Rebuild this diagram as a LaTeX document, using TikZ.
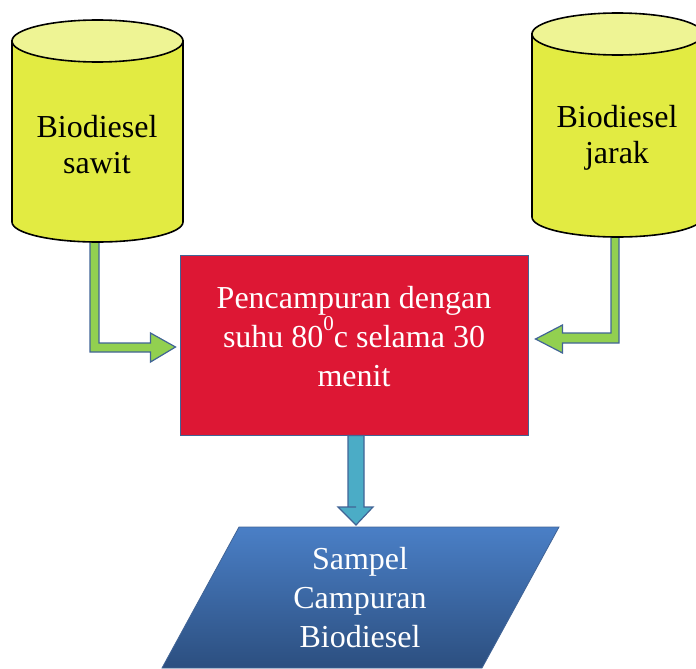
\documentclass[tikz,border=0pt]{standalone}
\usepackage{fontspec}
\setmainfont{Liberation Serif}
\usetikzlibrary{calc}
\definecolor{tankbody}{RGB}{226,235,66}
\definecolor{tanktop}{RGB}{238,244,148}
\definecolor{mixred}{RGB}{221,23,52}
\definecolor{edgeblue}{RGB}{65,100,150}
\definecolor{pipegreen}{RGB}{146,208,80}
\definecolor{pipeteal}{RGB}{75,172,198}
\definecolor{outtop}{RGB}{74,127,198}
\definecolor{outbot}{RGB}{44,79,128}
\tikzset{
  tanklabel/.style={align=center, font=\fontsize{32}{36}\selectfont, text=black, inner sep=0pt},
  whitelabel/.style={align=center, font=\fontsize{32}{39}\selectfont, text=white, inner sep=0pt},
  tankline/.style={draw=black, line width=1.6pt},
  procbox/.style={draw=edgeblue, line width=1pt, fill=mixred, minimum width=348pt, minimum height=180pt, inner sep=0pt},
  greenpipe/.style={draw=edgeblue, line width=1.2pt, fill=pipegreen, line join=miter},
  tealpipe/.style={draw=edgeblue, line width=1.2pt, fill=pipeteal, line join=miter},
}
\newcommand{\degsup}[1]{\raisebox{0.55em}{\fontsize{21}{21}\selectfont #1}}
\begin{document}
\begin{tikzpicture}[x=1pt,y=-1pt]
\useasboundingbox (0,0) rectangle (696,669);
\clip (0,0) rectangle (696,669);

% mixing step
\node[procbox] (mix) at (354,345) {};
\node[whitelabel] (mixtext) at ($(mix.center)+(0,-8)$)
  {Pencampuran dengan\\suhu 80\degsup{0}c selama 30\\menit};

% output product (parallelogram, runs past the lower edge)
\coordinate (outtl) at (239,527);
\shade[top color=outtop, bottom color=outbot, draw=edgeblue, line width=0.8pt]
  (outtl) -- (559,527) -- (482,668) -- (162,668) -- cycle;
\node[whitelabel] (out) at (360,598) {Sampel\\Campuran\\Biodiesel};

% pipe from the left tank into the mixer
\coordinate (tipL) at ($(mix.west)+(-4,2)$);
\draw[greenpipe] (90,238) |- ($(tipL)+(-25,5)$) -- ++(0,10) -- (tipL)
  -- ($(tipL)+(-25,-14)$) -- ++(0,10) -| (99,238) -- cycle;

% pipe from the right tank into the mixer
\coordinate (tipR) at ($(mix.east)+(7,-6)$);
\draw[greenpipe] (619,232) |- ($(tipR)+(27,4)$) -- ++(0,10) -- (tipR)
  -- ($(tipR)+(27,-14)$) -- ++(0,8) -| (611,232) -- cycle;

% pipe from the mixer down to the product
\coordinate (tipD) at (356,525);
\draw[tealpipe] ($(mix.south)+(-6,0)$) |- ($(tipD)+(0,-18)$) -- ++(-18,0) -- (tipD)
  -- ++(17,-18) -- ++(-9,0) |- ($(mix.south)+(10,0)$) -- cycle;

% left tank
\draw[tankline, fill=tankbody] (12,41) -- (12,222)
  arc[start angle=180, end angle=0, x radius=85.5, y radius=20] -- (183,41) -- cycle;
\draw[tankline, fill=tanktop] (97.5,41) ellipse[x radius=85.5, y radius=21];
\node[tanklabel] (sawit) at (97,145) {Biodiesel\\sawit};

% right tank
\draw[tankline, fill=tankbody] (532,34) -- (532,217)
  arc[start angle=180, end angle=0, x radius=85.5, y radius=20] -- (703,34) -- cycle;
\draw[tankline, fill=tanktop] (617.5,34) ellipse[x radius=85.5, y radius=21];
\node[tanklabel] (jarak) at (617,138) {Biodiesel\\jarak};
\end{tikzpicture}
\end{document}
